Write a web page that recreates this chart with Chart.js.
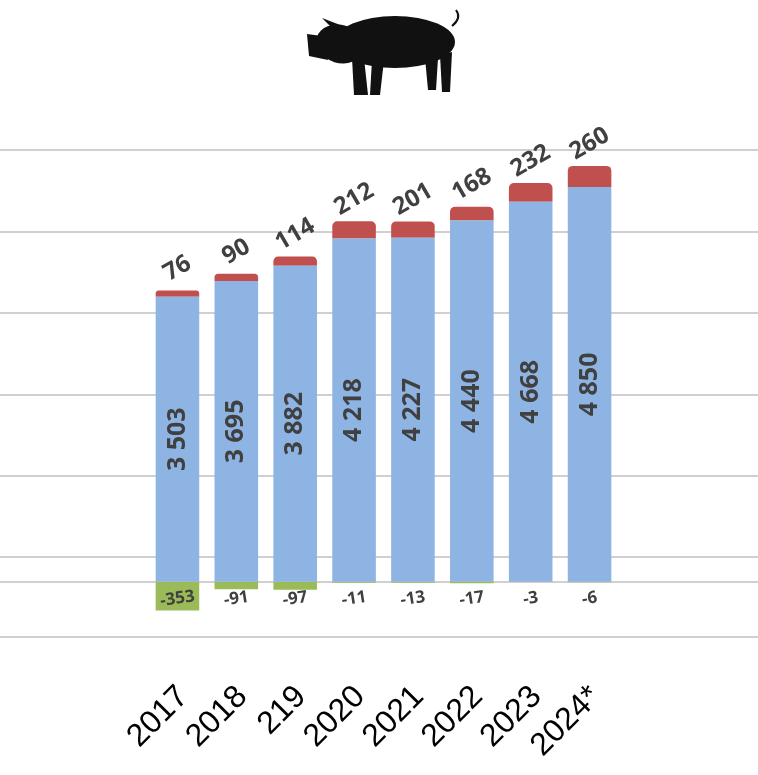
<!DOCTYPE html>
<html><head><meta charset="utf-8">
<script src="https://cdn.jsdelivr.net/npm/chart.js@4"></script>
<style>html,body{margin:0;padding:0;background:#fff}#c{display:block}</style>
</head><body>
<canvas id="c" width="758" height="775"></canvas>
<script>
const years = ['2017', '2018', '219', '2020', '2021', '2022', '2023', '2024*'];
const mainVals = [3503, 3695, 3882, 4218, 4227, 4440, 4668, 4850];
const topVals = [76, 90, 114, 212, 201, 168, 232, 260];
const negVals = [-353, -91, -97, -11, -13, -17, -3, -6];
const gridVals = [-680, 300, 1300, 2300, 3300, 4300, 5300];

const txt = '#404040';
const fmt = v => String(Math.abs(v)).replace(/\B(?=(\d{3})+(?!\d))/g, ' ');

// gridlines across the whole width, zero line
const gridPlugin = {
  id: 'grid',
  beforeDatasetsDraw(chart) {
    const ctx = chart.ctx, y = chart.scales.y;
    ctx.save();
    ctx.strokeStyle = '#d0d0d0';
    ctx.lineWidth = 2;
    gridVals.concat([0]).forEach(v => {
      const py = Math.round(y.getPixelForValue(v));
      ctx.beginPath(); ctx.moveTo(0, py); ctx.lineTo(chart.width, py); ctx.stroke();
    });
    ctx.restore();
  }
};

const labelPlugin = {
  id: 'labels',
  afterDatasetsDraw(chart) {
    const ctx = chart.ctx, y = chart.scales.y, x = chart.scales.x;
    ctx.save();
    ctx.fillStyle = txt;
    years.forEach((yr, i) => {
      const cx = x.getPixelForValue(i);
      // main value, vertical
      ctx.save();
      ctx.translate(cx, y.getPixelForValue(mainVals[i] / 2));
      ctx.rotate(-Math.PI / 2);
      ctx.font = 'bold 25px "Open Sans", sans-serif';
      ctx.textAlign = 'center'; ctx.textBaseline = 'middle';
      ctx.fillText(fmt(mainVals[i]), 0, 0);
      ctx.restore();
      // top value
      ctx.save();
      ctx.translate(cx, y.getPixelForValue(mainVals[i] + topVals[i]) - 22);
      ctx.rotate(-Math.PI / 6);
      ctx.font = 'bold 24px "Open Sans", sans-serif';
      ctx.textAlign = 'center'; ctx.textBaseline = 'middle';
      ctx.fillText(fmt(topVals[i]), 0, 0);
      ctx.restore();
      // negative value
      ctx.save();
      ctx.translate(cx, y.getPixelForValue(0) + 17);
      ctx.rotate(-0.15);
      ctx.font = 'bold 17px "Open Sans", sans-serif';
      ctx.textAlign = 'center'; ctx.textBaseline = 'middle';
      ctx.fillText('-' + fmt(negVals[i]), 0, 0);
      ctx.restore();
      // category label, rotated 45
      ctx.save();
      ctx.translate(cx + 6, y.getPixelForValue(0) + 110);
      ctx.rotate(-Math.PI / 4);
      ctx.font = '32px "Liberation Sans", sans-serif';
      ctx.fillStyle = '#000';
      ctx.textAlign = 'right'; ctx.textBaseline = 'middle';
      ctx.fillText(yr, 0, 0);
      ctx.restore();
    });
    ctx.restore();
  }
};

// pig silhouette at the top
const pigPlugin = {
  id: 'pig',
  afterDraw(chart) {
    const ctx = chart.ctx;
    ctx.save();
    ctx.fillStyle = '#111';
    ctx.beginPath(); ctx.ellipse(395, 42, 60, 26, 0, 0, Math.PI * 2); ctx.fill();
    ctx.beginPath(); ctx.ellipse(340, 44, 24, 19, 0.3, 0, Math.PI * 2); ctx.fill();
    ctx.beginPath(); ctx.moveTo(322, 36); ctx.lineTo(307, 34); ctx.lineTo(309, 56); ctx.lineTo(328, 60); ctx.fill();
    ctx.beginPath(); ctx.moveTo(334, 30); ctx.lineTo(322, 18); ctx.lineTo(348, 28); ctx.fill();
    ctx.beginPath(); ctx.moveTo(352, 58); ctx.lineTo(364, 58); ctx.lineTo(368, 95); ctx.lineTo(354, 95); ctx.fill();
    ctx.beginPath(); ctx.moveTo(372, 60); ctx.lineTo(384, 60); ctx.lineTo(380, 95); ctx.lineTo(370, 95); ctx.fill();
    ctx.beginPath(); ctx.moveTo(425, 58); ctx.lineTo(438, 58); ctx.lineTo(436, 90); ctx.lineTo(428, 90); ctx.fill();
    ctx.beginPath(); ctx.moveTo(440, 55); ctx.lineTo(452, 52); ctx.lineTo(450, 92); ctx.lineTo(442, 92); ctx.fill();
    ctx.strokeStyle = '#111'; ctx.lineWidth = 2;
    ctx.beginPath(); ctx.moveTo(452, 26); ctx.quadraticCurveTo(462, 18, 456, 10); ctx.stroke();
    ctx.restore();
  }
};

new Chart(document.getElementById('c'), {
  type: 'bar',
  data: {
    labels: years,
    datasets: [
      { data: mainVals, backgroundColor: '#8EB4E3', stack: 's', barPercentage: 0.74, categoryPercentage: 1 },
      { data: topVals, backgroundColor: '#C0504D', stack: 's', barPercentage: 0.74, categoryPercentage: 1, borderRadius: 5, borderSkipped: 'bottom' },
      { data: negVals, backgroundColor: '#9BBB59', stack: 's', barPercentage: 0.74, categoryPercentage: 1 }
    ]
  },
  options: {
    responsive: false,
    animation: false,
    layout: { padding: { left: 148, right: 139, top: 126, bottom: 120 } },
    plugins: { legend: { display: false }, tooltip: { enabled: false } },
    scales: {
      x: { stacked: true, display: false },
      y: { stacked: true, display: false, min: -900, max: 5600 }
    }
  },
  plugins: [gridPlugin, labelPlugin, pigPlugin]
});
</script>
</body></html>
